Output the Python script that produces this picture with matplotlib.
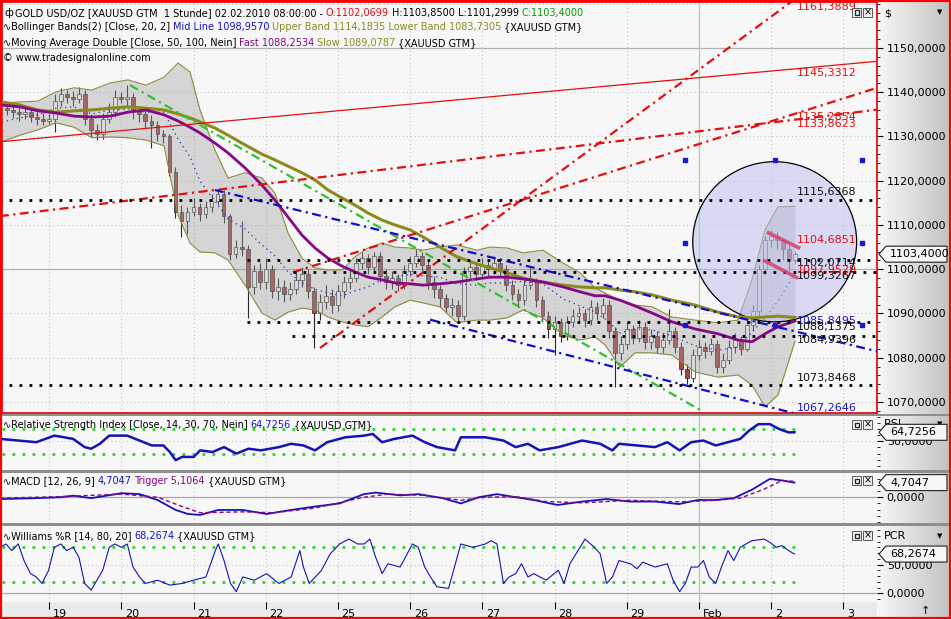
import numpy as np
import matplotlib.pyplot as plt
from matplotlib.patches import Ellipse, Rectangle, Polygon
from matplotlib.ticker import FuncFormatter, MultipleLocator
from matplotlib.transforms import ScaledTranslation

# ----------------------------
# Kursdaten (2-Stunden-Kerzen, Zeitachse in Handelstagen)
# ----------------------------
first_bar_d = -0.586
first_open = 1136.5
closes = [1136.0, 1135.5, 1135.0, 1135.5, 1134.5, 1134.0, 1133.5, 1134.0, 1138.0, 1139.5,
          1139.0, 1138.5, 1139.5, 1134.0, 1131.5, 1130.5, 1134.0, 1135.5, 1139.0, 1138.5,
          1139.0, 1136.0, 1135.0, 1133.5, 1132.5, 1130.5, 1130.0, 1122.0, 1113.0, 1111.0,
          1113.0, 1114.0, 1112.5, 1114.0, 1115.5, 1117.0, 1112.0, 1103.5, 1105.0, 1104.5,
          1096.0, 1099.5, 1097.0, 1100.0, 1095.0, 1096.0, 1094.5, 1095.5, 1097.5, 1099.0,
          1095.0, 1090.0, 1092.5, 1094.0, 1092.0, 1095.0, 1097.0, 1098.0, 1101.5, 1102.5,
          1100.5, 1103.0, 1098.5, 1097.0, 1098.0, 1096.5, 1099.5, 1101.5, 1103.0, 1101.0,
          1097.0, 1095.5, 1093.5, 1091.5, 1092.0, 1089.5, 1099.5, 1100.5, 1099.0, 1101.0,
          1100.0, 1101.5, 1100.0, 1096.5, 1094.5, 1093.0, 1096.5, 1097.0, 1093.0, 1089.5,
          1086.5, 1088.0, 1085.0, 1088.0, 1089.5, 1090.0, 1088.5, 1091.5, 1090.0, 1092.0,
          1086.0, 1081.0, 1083.0, 1086.5, 1084.5, 1087.0, 1083.5, 1085.0, 1082.5, 1084.0,
          1086.0, 1082.5, 1077.5, 1075.5, 1080.5, 1082.5, 1081.5, 1083.0, 1078.0, 1079.5,
          1082.5, 1084.0, 1082.0, 1087.5, 1090.5, 1100.0, 1106.5, 1107.5, 1106.5, 1104.5,
          1102.0, 1103.4]
highs = [1137.8, 1137.0, 1136.8, 1136.9, 1136.5, 1135.8, 1135.2, 1135.0, 1139.5, 1141.0,
         1140.5, 1140.2, 1141.2, 1140.5, 1135.0, 1132.8, 1135.2, 1137.5, 1140.5, 1140.0,
         1141.6, 1139.8, 1137.0, 1136.0, 1134.8, 1133.5, 1131.5, 1130.5, 1123.0, 1114.5,
         1114.0, 1116.0, 1115.0, 1115.5, 1117.0, 1118.2, 1117.8, 1112.5, 1106.5, 1111.0,
         1105.5, 1101.0, 1101.5, 1102.5, 1101.0, 1098.0, 1097.5, 1097.0, 1099.5, 1100.5,
         1100.0, 1096.0, 1094.5, 1096.5, 1095.5, 1096.5, 1098.5, 1100.0, 1102.5, 1104.0,
         1103.5, 1104.0, 1103.8, 1100.0, 1099.5, 1099.0, 1101.0, 1103.0, 1104.5, 1104.0,
         1102.0, 1098.5, 1096.5, 1094.5, 1093.5, 1093.0, 1100.5, 1102.0, 1101.5, 1102.5,
         1102.0, 1103.0, 1102.5, 1101.0, 1097.5, 1095.5, 1097.5, 1100.8, 1098.0, 1094.0,
         1090.5, 1089.5, 1089.0, 1089.5, 1091.0, 1091.5, 1091.0, 1093.0, 1092.5, 1093.5,
         1093.0, 1087.0, 1085.0, 1088.0, 1087.5, 1088.5, 1088.0, 1086.5, 1086.0, 1085.5,
         1091.0, 1087.0, 1083.5, 1078.5, 1082.0, 1084.0, 1083.5, 1084.5, 1084.0, 1081.0,
         1084.0, 1085.5, 1085.0, 1089.0, 1092.0, 1101.0, 1107.5, 1108.8, 1108.5, 1107.0,
         1105.5, 1103.85]
lows = [1134.8, 1134.2, 1133.6, 1133.9, 1133.2, 1132.5, 1132.6, 1132.8, 1131.0, 1137.0,
        1137.5, 1137.0, 1137.5, 1132.5, 1129.8, 1129.2, 1129.5, 1133.0, 1134.5, 1137.5,
        1137.0, 1134.0, 1133.2, 1132.0, 1127.5, 1129.0, 1128.5, 1121.0, 1111.5, 1107.3,
        1108.0, 1112.0, 1111.0, 1111.5, 1113.0, 1114.5, 1110.5, 1102.0, 1102.5, 1103.0,
        1089.0, 1094.5, 1095.5, 1095.5, 1093.5, 1093.0, 1092.5, 1093.0, 1094.5, 1096.0,
        1093.5, 1082.2, 1088.5, 1091.0, 1090.0, 1090.5, 1093.5, 1095.5, 1097.0, 1100.0,
        1099.0, 1099.5, 1097.0, 1095.5, 1095.5, 1095.0, 1095.5, 1098.5, 1100.5, 1099.5,
        1095.5, 1093.5, 1091.5, 1090.0, 1089.5, 1087.8, 1088.5, 1098.0, 1097.5, 1098.0,
        1098.5, 1099.0, 1098.5, 1095.0, 1093.0, 1091.5, 1092.0, 1095.5, 1091.5, 1088.0,
        1084.5, 1080.6, 1083.5, 1084.0, 1087.0, 1088.0, 1087.0, 1087.5, 1088.5, 1089.0,
        1084.5, 1073.4, 1079.5, 1082.0, 1083.0, 1083.5, 1082.0, 1082.0, 1081.0, 1081.0,
        1083.0, 1081.0, 1076.0, 1074.0, 1074.5, 1079.5, 1080.0, 1080.5, 1076.5, 1076.5,
        1078.5, 1081.0, 1080.5, 1081.5, 1086.0, 1089.5, 1099.0, 1105.0, 1104.5, 1102.0,
        1099.5, 1101.3]

# Bollinger Bänder und gleitende Durchschnitte
band_d = [-0.655, -0.406, -0.157, 0.093, 0.342, 0.591, 0.841, 1.090, 1.339, 1.589,
          1.783, 1.949, 2.087, 2.295, 2.475, 2.711, 2.946, 3.126, 3.306, 3.500,
          3.680, 3.860, 4.054, 4.234, 4.414, 4.608, 4.788, 4.996, 5.176, 5.411,
          5.647, 5.924, 6.104, 6.339, 6.561, 6.838, 7.115, 7.351, 7.558, 7.697,
          7.905, 8.112, 8.348, 8.625, 8.943, 9.262, 9.539, 9.733, 9.913, 10.093, 10.328]
upper_band = [1137.6, 1137.8, 1138.0, 1140.1, 1141.0, 1140.5, 1142.1, 1142.8, 1141.6, 1143.4,
              1146.6, 1144.6, 1136.0, 1126.9, 1120.6, 1121.8, 1120.6, 1117.2, 1108.2, 1102.5,
              1100.3, 1099.8, 1099.8, 1102.8, 1104.8, 1105.9, 1105.0, 1104.8, 1104.3, 1105.0,
              1105.5, 1104.3, 1105.0, 1104.8, 1103.7, 1104.3, 1101.4, 1099.2, 1095.8, 1094.6,
              1093.0, 1091.9, 1091.5, 1089.2, 1088.5, 1087.9, 1088.5, 1097.6, 1108.9, 1114.1, 1114.2]
lower_band = [1128.8, 1130.3, 1131.5, 1133.1, 1132.1, 1129.7, 1129.9, 1129.7, 1129.2, 1127.9,
              1112.3, 1105.9, 1103.9, 1103.7, 1102.1, 1096.4, 1090.1, 1088.5, 1090.3, 1091.2,
              1090.8, 1089.2, 1088.1, 1087.4, 1087.0, 1089.2, 1091.5, 1093.0, 1092.4, 1091.5,
              1087.9, 1088.5, 1088.5, 1089.0, 1090.8, 1089.0, 1085.1, 1084.0, 1084.7, 1082.9,
              1077.9, 1081.1, 1081.1, 1080.6, 1076.8, 1075.6, 1076.1, 1073.8, 1068.9, 1071.6, 1083.7]
mid_line = [1133.3, 1134.2, 1134.9, 1136.4, 1136.7, 1135.1, 1136.0, 1136.2, 1135.5, 1135.5,
            1129.4, 1125.4, 1119.9, 1115.4, 1111.4, 1109.1, 1105.5, 1103.0, 1099.4, 1096.9,
            1095.5, 1094.6, 1094.0, 1095.1, 1096.0, 1097.6, 1098.2, 1098.9, 1098.5, 1098.2,
            1096.7, 1096.4, 1096.9, 1096.9, 1097.3, 1096.7, 1093.3, 1091.7, 1090.3, 1088.8,
            1085.6, 1086.5, 1086.3, 1084.9, 1082.7, 1081.7, 1082.4, 1085.8, 1089.0, 1092.8, 1099.0]
ma_fast = [1137.1, 1136.7, 1135.8, 1135.3, 1134.6, 1134.4, 1134.6, 1135.5, 1136.0, 1134.9,
           1133.5, 1132.1, 1130.8, 1128.5, 1126.3, 1122.9, 1119.0, 1115.6, 1111.8, 1107.7,
           1104.8, 1102.5, 1100.7, 1099.4, 1098.2, 1097.6, 1096.9, 1096.7, 1096.4, 1096.7,
           1097.1, 1097.8, 1098.2, 1098.2, 1097.8, 1097.1, 1096.0, 1094.9, 1094.0, 1094.0,
           1093.0, 1091.7, 1090.1, 1088.1, 1086.5, 1085.4, 1084.0, 1083.6, 1085.4, 1087.0, 1088.3]
ma_slow = [1137.8, 1137.1, 1136.0, 1135.5, 1135.8, 1136.0, 1136.4, 1136.7, 1136.4, 1136.0,
           1135.1, 1134.2, 1133.3, 1131.9, 1130.3, 1128.1, 1126.0, 1124.7, 1123.3, 1121.8,
           1120.2, 1117.9, 1116.1, 1114.5, 1112.7, 1111.1, 1110.0, 1108.9, 1107.3, 1105.0,
           1102.8, 1101.2, 1100.3, 1099.2, 1098.0, 1097.1, 1096.4, 1096.0, 1095.8, 1095.8,
           1095.3, 1094.9, 1094.2, 1093.0, 1091.9, 1090.3, 1089.2, 1089.0, 1089.2, 1089.4, 1089.1]

# Indikatoren
rsi_d = [-0.68, -0.43, -0.18, 0.07, 0.33, 0.49, 0.58, 0.70, 0.83, 1.08, 1.25, 1.42, 1.58, 1.67,
         1.75, 1.84, 2.00, 2.09, 2.26, 2.42, 2.59, 2.76, 2.93, 3.18, 3.35, 3.52, 3.68, 3.85,
         4.10, 4.36, 4.48, 4.61, 4.78, 5.03, 5.20, 5.37, 5.62, 5.70, 6.04, 6.29, 6.46, 6.63,
         6.79, 7.05, 7.38, 7.63, 7.80, 7.89, 8.14, 8.39, 8.56, 8.73, 8.89, 9.06, 9.23, 9.40,
         9.57, 9.69, 9.82, 9.98, 10.11, 10.24, 10.32]
rsi = [54, 51.3, 48.6, 59.3, 54, 40.6, 38, 46, 59.3, 59.3, 51.3, 43.3, 43.3, 32.6,
       19.3, 24.6, 24.6, 35.3, 32.6, 40.6, 30, 38, 35.3, 40.6, 46, 43.3, 35.3, 48.6,
       56.6, 59.3, 62, 48.6, 54, 59.3, 48.6, 40.6, 35.3, 56.6, 56.6, 51.3, 40.6, 46,
       35.3, 40.6, 51.3, 46, 35.3, 46, 43.3, 40.6, 48.6, 35.3, 48.6, 51.3, 43.3, 48.6,
       54, 67.3, 78, 78, 70, 64.6, 64.7256]

macd_d = [-0.68, -0.18, 0.16, 0.33, 0.58, 1.00, 1.25, 1.50, 1.75, 1.92, 2.09, 2.34, 2.68, 3.01,
          3.35, 3.68, 4.02, 4.36, 4.52, 4.86, 5.11, 5.45, 5.70, 5.95, 6.20, 6.46, 6.71, 7.04,
          7.38, 7.72, 8.05, 8.39, 8.72, 8.98, 9.23, 9.48, 9.73, 9.98, 10.15, 10.32]
macd = [-0.6, -0.3, 0, 0.5, -0.3, 1.3, 1, -0.9, -4.1, -5.4, -5.7, -4.1, -4.1, -5.4,
        -4.1, -3, -2, 1, 1.5, 0.6, 1, -0.3, -2, 0, 1, 0, -0.9, -2.5,
        -1.4, -0.6, -1.4, -1.4, -2.2, -0.9, -0.9, -0.3, 2.4, 5.9, 5.4, 4.7047]
trigger_d = [-0.68, 0.16, 1.00, 1.50, 1.84, 2.09, 2.68, 3.10, 3.68, 4.36, 4.69, 5.20, 5.70, 6.04,
             6.46, 6.88, 7.38, 8.05, 8.72, 9.23, 9.57, 9.90, 10.15, 10.32]
trigger = [-0.3, 0.2, 1, 0, -3, -5, -4.7, -5, -3.5, 0, 1, 0.6, -1, 0,
           0.2, -1.4, -1.8, -1, -1.5, -1, -0.3, 2.6, 5.4, 5.1064]

wr_d = [-0.68, -0.60, -0.52, -0.43, -0.35, -0.26, -0.18, -0.10, -0.01, 0.07, 0.16, 0.24, 0.33,
        0.41, 0.49, 0.58, 0.66, 0.74, 0.83, 0.91, 1.00, 1.08, 1.16, 1.25, 1.33, 1.50, 1.67,
        1.84, 2.00, 2.17, 2.30, 2.34, 2.42, 2.51, 2.59, 2.68, 2.84, 3.01, 3.18, 3.35, 3.47,
        3.52, 3.60, 3.77, 3.89, 4.02, 4.15, 4.27, 4.36, 4.44, 4.52, 4.61, 4.69, 4.86, 5.03,
        5.11, 5.20, 5.28, 5.37, 5.53, 5.70, 5.87, 6.04, 6.12, 6.20, 6.29, 6.37, 6.46, 6.54,
        6.63, 6.71, 6.88, 7.05, 7.13, 7.21, 7.38, 7.42, 7.55, 7.63, 7.72, 7.80, 7.89, 8.05,
        8.14, 8.22, 8.39, 8.56, 8.64, 8.73, 8.81, 8.89, 8.98, 9.06, 9.14, 9.23, 9.31, 9.40,
        9.48, 9.57, 9.65, 9.73, 9.90, 9.98, 10.07, 10.15, 10.24, 10.32]
wr = [80, 85.8, 74.3, 85.8, 57, 34.3, 28.5, 17.2, 40, 80, 85.8, 74.3, 80,
      62.8, 17.2, 5.7, 22.9, 40, 80, 85.8, 80, 85.8, 45.7, 28.5, 17.2, 22.9, 14.3,
      17.2, 22.9, 28.5, 74.3, 85.8, 57, 17.2, 2.9, 28.5, 22.9, 34.3, 17.2, 28.5, 74.3,
      45.7, 17.2, 40, 68.6, 85.8, 94.3, 85.8, 85.8, 94.3, 62.8, 34.3, 51.4, 45.7, 85.8,
      80, 45.7, 28.5, 11.4, 8.6, 85.8, 80, 85.8, 91.4, 85.8, 17.2, 28.5, 34.3, 51.4,
      28.5, 34.3, 22.9, 40, 17.2, 51.4, 85.8, 94.3, 80, 68.6, 17.2, 28.5, 57, 51.4,
      42.8, 54.2, 45.7, 51.4, 22.9, 2.9, 17.2, 45.7, 45.7, 57, 28.5, 17.2, 45.7, 74.3,
      57, 80, 85.8, 91.4, 94.3, 88.6, 80, 82.9, 74.3, 68.2674]

# Zeichenobjekte (Trendlinien: Start- und Endpunkt in Tag/Preis)
red_lines = [((3.750, 1082.2), (10.356, 1161.3889)),
             ((-0.683, 1112.0), (10.356, 1133.8623)),
             ((3.375, 1099.3267), (10.356, 1135.2854))]
thin_red = ((-0.683, 1128.8), (10.356, 1145.3312))
green_line = ((1.118, 1141.6), (9.013, 1068.2))
blue_lines = [((2.295, 1117.9), (10.356, 1085.8495)),
              ((5.273, 1088.6), (10.356, 1067.2646))]
level_values = [1115.6368, 1102.0714, 1099.3267, 1088.1375, 1084.9396, 1073.8468]
level_start = [-0.7, 2.74, 3.375, 2.74, 3.36, -0.7]
channel_upper = ((9.94, 1108.4), (10.40, 1104.6851))
channel_lower = ((9.885, 1102.1), (10.37, 1097.9529))
end_labels = ['1161,3889', '1145,3312', '1135,2854', '1133,8623', '1115,6368', '1104,6851',
              '1102,0714', '1097,9529', '1099,3267', '1085,8495', '1088,1375', '1084,9396',
              '1073,8468', '1067,2646']
end_values = [1161.3889, 1145.3312, 1135.2854, 1133.8623, 1115.6368, 1104.6851,
              1102.0714, 1097.9529, 1099.3267, 1085.8495, 1088.1375, 1084.9396,
              1073.8468, 1067.2646]
end_colors = ['red', 'red', 'red', 'red', 'k', 'red', 'k', 'red', 'k', 'blue', 'k', 'k', 'k', 'blue']
end_shift = [-9, -4, -4, -5, 8, 8, -3, 8, -4, 11, -5, -4, 7, 6]   # Pixel nach oben

day_labels = ['19', '20', '21', '22', '25', '26', '27', '28', '29', 'Feb', '2', '3']
last_price = 1103.4

# ----------------------------
# Layout
# ----------------------------
W, H = 951, 619
RED = '#e01010'
BLUE = '#1414c8'
OLIVE = '#8a8a1e'
PURPLE = '#860886'
GREEN = '#00a000'
BG = '#f7f7f7'
X0, X1 = -0.655, 11.464

fig = plt.figure(figsize=(W / 100, H / 100), dpi=100)
fig.patch.set_facecolor('#ebebeb')

# Verlauf rechts hinter der Preisachse
gax = fig.add_axes([877 / W, 0, 74 / W, 1], zorder=-1)
gax.imshow(np.linspace(0.97, 0.76, 50)[None, :], cmap='gray', vmin=0, vmax=1, aspect='auto')
gax.axis('off')


def panel(top, bottom):
    a = fig.add_axes([2 / W, 1 - bottom / H, 875 / W, (bottom - top) / H])
    a.set_facecolor(BG)
    a.set_xlim(X0, X1)
    a.yaxis.tick_right()
    a.tick_params(axis='y', which='major', direction='out', length=4, width=0.8, pad=3,
                  labelsize=8, colors='k')
    a.tick_params(axis='y', which='minor', direction='out', length=2, width=0.6)
    a.tick_params(axis='x', which='both', length=0, labelbottom=False)
    a.yaxis.set_major_formatter(FuncFormatter(lambda v, p: f"{v:.4f}".replace('.', ',')))
    for s in a.spines.values():
        s.set_visible(False)
    a.set_xticks(range(len(day_labels)))
    for i in range(len(day_labels)):
        a.axvline(i, color='#b4b4b4', lw=0.7, ls=(0, (1, 3)), zorder=0.5)
    a.axvline(9, color='#a8d8a8', lw=1, zorder=0.6)
    return a


ax = panel(2, 413)
ax_rsi = panel(416, 470)
ax_macd = panel(473, 523)
ax_wr = panel(526, 602)

# ----------------------------
# Hauptchart
# ----------------------------
ax.set_ylim(1067.5, 1160.4)
ax.set_yticks(np.arange(1070, 1151, 10))
ax.yaxis.set_minor_locator(MultipleLocator(2))
for v in range(1070, 1161, 10):
    if v % 50 == 0:
        ax.axhline(v, color='#b0b0b0', lw=0.9, zorder=0.5)
    else:
        ax.axhline(v, color='#b8b8b8', lw=0.7, ls=(0, (1, 3)), zorder=0.5)
for s in ax.spines.values():
    s.set_visible(True)
    s.set_color(RED)
    s.set_linewidth(1.3)

closes = np.array(closes)
bar_d = first_bar_d + np.arange(len(closes)) / 12
opens = np.r_[first_open, closes[:-1]]
rising = closes >= opens
ax.vlines(bar_d, lows, highs, color='#2a2a2a', lw=0.8, zorder=2)
ax.bar(bar_d, np.maximum(np.abs(closes - opens), 0.25), bottom=np.minimum(opens, closes),
       width=0.052, color=np.where(rising, 'white', '#a84444'), edgecolor='#2a2a2a',
       linewidth=0.5, zorder=2.1)

ax.fill_between(band_d, lower_band, upper_band, color='#a0a0a0', alpha=0.38, lw=0, zorder=3)
ax.plot(band_d, upper_band, color='#8c8c3c', lw=0.8, zorder=3.2)
ax.plot(band_d, lower_band, color='#8c8c3c', lw=0.8, zorder=3.2)
ax.plot(band_d, mid_line, color='#2828c8', lw=0.9, ls=(0, (1, 3)), zorder=3.2)

circle = Ellipse((10.047, 1106.2), 2.27, 36.2, facecolor=(0.74, 0.74, 0.95), alpha=0.5,
                 edgecolor='none', zorder=3.4)
ax.add_patch(circle)
ax.add_patch(Ellipse((10.047, 1106.2), 2.27, 36.2, fill=False, edgecolor='k', lw=0.9, zorder=3.5))

ax.plot(band_d, ma_slow, color=OLIVE, lw=2.2, zorder=4)
ax.plot(band_d, ma_fast, color=PURPLE, lw=2.0, zorder=4.1)


def extend(p, q, x_end=X1):
    (x1, y1), (x2, y2) = p, q
    k = (y2 - y1) / (x2 - x1)
    return [x1, x_end], [y1, y1 + k * (x_end - x1)]


for p, q in red_lines:
    xs, ys = extend(p, q)
    ax.plot(xs, ys, color=RED, lw=1.6, ls=(0, (4, 2, 1, 2)), zorder=5)
xs, ys = extend(*thin_red)
ax.plot(xs, ys, color=RED, lw=0.9, zorder=5)
ax.plot([green_line[0][0], green_line[1][0]], [green_line[0][1], green_line[1][1]],
        color='#30c030', lw=1.6, ls=(0, (4, 2, 1, 2)), zorder=5)
for p, q in blue_lines:
    xs, ys = extend(p, q)
    ax.plot(xs, ys, color='#1010c8', lw=1.6, ls=(0, (4, 2, 1, 2)), zorder=5)

for v, x0 in zip(level_values, level_start):
    ax.plot([x0, X1], [v, v], color='k', lw=2.0, ls=(0, (1, 2.6)), zorder=5.2)

for p, q in (channel_upper, channel_lower):
    ax.plot([p[0], q[0]], [p[1], q[1]], color='#d8406a', lw=2.6, alpha=0.85,
            solid_capstyle='butt', zorder=5.5)

for hx in (8.805, 10.05, 11.256):
    for hy in (1124.7, 1105.9, 1087.4):
        if hx == 10.05 and hy == 1105.9:
            continue
        ax.plot(hx, hy, marker='s', ms=3.5, color='#1818d0', zorder=6)

colmap = {'red': RED, 'k': '#111111', 'blue': '#1818c8'}
for txt, v, c, sh in zip(end_labels, end_values, end_colors, end_shift):
    ax.annotate(txt, xy=(10.356, v), xytext=(0, sh * 0.72), textcoords='offset points',
                fontsize=8, color=colmap[c], ha='left', va='center', zorder=7,
                annotation_clip=False)

# ----------------------------
# RSI
# ----------------------------
ax_rsi.set_ylim(3.3, 91.3)
ax_rsi.set_yticks([50])
ax_rsi.yaxis.set_minor_locator(MultipleLocator(10))
ax_rsi.axhline(50, color='#b8b8b8', lw=0.7, ls=(0, (1, 3)), zorder=0.5)
for v in (30, 70):
    ax_rsi.plot([X0, 10.33], [v, v], color='#33cc33', lw=2, ls=(0, (1, 2.6)), zorder=1)
ax_rsi.plot(rsi_d, rsi, color='#1414b4', lw=1.8, zorder=2)

# ----------------------------
# MACD
# ----------------------------
ax_macd.set_ylim(-8.3, 7.8)
ax_macd.set_yticks([0])
ax_macd.yaxis.set_minor_locator(MultipleLocator(2))
ax_macd.axhline(0, color='#a8a8a8', lw=0.9, zorder=0.5)
ax_macd.plot(macd_d, macd, color='#1414b4', lw=1.3, zorder=2)
ax_macd.plot(trigger_d, trigger, color=PURPLE, lw=1.0, ls=(0, (3, 2)), zorder=2.1)

# ----------------------------
# Williams %R
# ----------------------------
ax_wr.set_ylim(-15, 117)
ax_wr.set_yticks([0, 50])
ax_wr.yaxis.set_minor_locator(MultipleLocator(10))
ax_wr.axhline(0, color='#a8a8a8', lw=0.9, zorder=0.5)
ax_wr.axhline(50, color='#b8b8b8', lw=0.7, ls=(0, (1, 3)), zorder=0.5)
for v in (20, 80):
    ax_wr.plot([X0, 10.33], [v, v], color='#33cc33', lw=2, ls=(0, (1, 2.6)), zorder=1)
ax_wr.plot(wr_d, wr, color='#1414b4', lw=0.8, zorder=2)

ax_wr.tick_params(axis='x', length=5, width=0.8, direction='out', pad=0,
                  labelbottom=True, labelsize=8)
ax_wr.set_xticklabels(day_labels)
shift = ScaledTranslation(2.5 / 72, 0, fig.dpi_scale_trans)
for lab in ax_wr.get_xticklabels():
    lab.set_ha('left')
    lab.set_transform(lab.get_transform() + shift)

# ----------------------------
# Rahmen, Trenner, Texte
# ----------------------------
for y0 in (413.5, 470, 523):
    fig.patches.append(Rectangle((0, 1 - (y0 + 2.5) / H), 1, 2.5 / H, transform=fig.transFigure,
                                 facecolor='#8e8e8e', edgecolor='none', zorder=2))

renderer = fig.canvas.get_renderer()


def write_parts(x_px, y_px, parts, size=7.0):
    x = x_px
    for txt, col in parts:
        t = fig.text(x / W, 1 - y_px / H, txt, color=col, fontsize=size, ha='left', va='center')
        x += t.get_window_extent(renderer).width + 2.8


write_parts(4, 13, [('\u0444', 'k')], size=7.5)
write_parts(15, 13, [('GOLD USD/OZ [XAUUSD GTM  1 Stunde] 02.02.2010 08:00:00 -', 'k'),
                     ('O:1102,0699', RED), ('H:1103,8500 L:1101,2999', 'k'),
                     ('C:1103,4000', GREEN)])
write_parts(3, 27, [('\u223fBollinger Bands(2) [Close, 20, 2]', 'k'),
                    ('Mid Line 1098,9570', BLUE),
                    ('Upper Band 1114,1835 Lower Band 1083,7305', OLIVE),
                    ('{XAUUSD GTM}', 'k')])
write_parts(3, 43, [('\u223fMoving Average Double [Close, 50, 100, Nein]', 'k'),
                    ('Fast 1088,2534', PURPLE), ('Slow 1089,0787', OLIVE),
                    ('{XAUUSD GTM}', 'k')])
write_parts(3, 58, [('\u00a9 www.tradesignalonline.com', 'k')])
write_parts(3, 425, [('\u223fRelative Strength Index [Close, 14, 30, 70, Nein]', 'k'),
                     ('64,7256', BLUE), ('{XAUUSD GTM}', 'k')])
write_parts(3, 481, [('\u223fMACD [12, 26, 9]', 'k'), ('4,7047', BLUE),
                     ('Trigger 5,1064', PURPLE), ('{XAUUSD GTM}', 'k')])
write_parts(3, 536, [('\u223fWilliams %R [14, 80, 20]', 'k'), ('68,2674', BLUE),
                     ('{XAUUSD GTM}', 'k')])

for txt, (x, y) in [('$', (884, 14)), ('RSI', (884, 424)), ('PCR', (884, 536))]:
    fig.text(x / W, 1 - y / H, txt, fontsize=8, ha='left', va='center')
for y in (12, 424, 536):
    fig.text(940 / W, 1 - y / H, '\u25bc', fontsize=5, ha='center', va='center')
fig.text(925 / W, 1 - 611 / H, '\u2191', fontsize=8, ha='center', va='center')

# Fenster-Knöpfe oben rechts in jedem Bereich
for top in (8, 420, 476, 531):
    for k, x in enumerate((852, 863)):
        fig.patches.append(Rectangle((x / W, 1 - (top + 9) / H), 9 / W, 9 / H,
                                     transform=fig.transFigure, facecolor='#f0f0f0',
                                     edgecolor='#404040', lw=0.6, zorder=3))
    fig.patches.append(Rectangle((854.5 / W, 1 - (top + 6.5) / H), 4 / W, 4 / H,
                                 transform=fig.transFigure, facecolor='none',
                                 edgecolor='#202020', lw=0.9, zorder=3.1))
    fig.text(867.5 / W, 1 - (top + 4.5) / H, '\u00d7', fontsize=7, ha='center', va='center')


def value_box(a, value, txt):
    yc = a.transData.transform((0, value))[1]
    pts = [(879, yc), (886, yc + 8), (947, yc + 8), (947, yc - 8), (886, yc - 8)]
    fig.patches.append(Polygon([(px / W, py / H) for px, py in pts], closed=True,
                               transform=fig.transFigure, facecolor='#f6f6f6',
                               edgecolor='#202020', lw=0.8, zorder=4))
    fig.text(890 / W, yc / H, txt, fontsize=8, ha='left', va='center', zorder=5)


value_box(ax, last_price, '1103,4000')
value_box(ax_rsi, rsi[-1], '64,7256')
value_box(ax_macd, macd[-1], '4,7047')
value_box(ax_wr, wr[-1], '68,2674')

fig.patches.append(Rectangle((0, 0), 1, 1, transform=fig.transFigure, fill=False,
                             edgecolor='#ff0000', lw=3, zorder=10))

fig.savefig('out.png', dpi=100, facecolor=fig.get_facecolor())
